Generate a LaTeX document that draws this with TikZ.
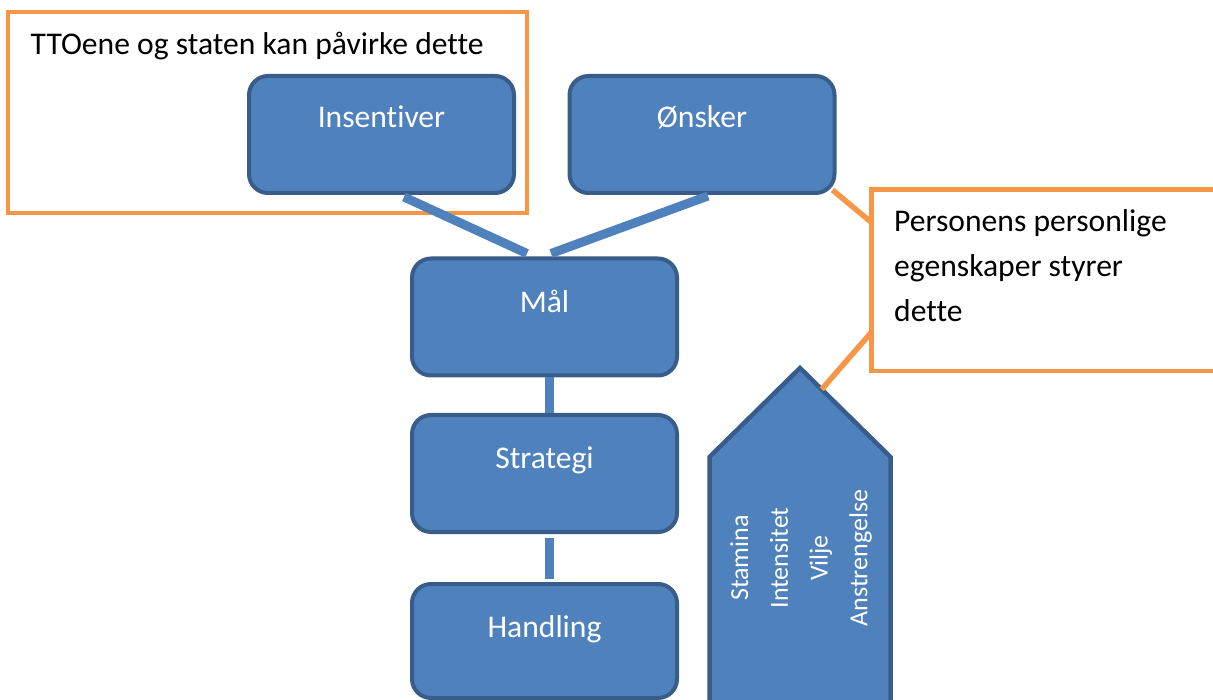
\documentclass[tikz,border=0pt]{standalone}
\usepackage{fontspec}
\setmainfont{Carlito}[RawFeature={-liga;-clig;-calt;-dlig;-rlig}]
\usetikzlibrary{calc}
\definecolor{boxfill}{HTML}{4F81BD}
\definecolor{boxline}{HTML}{385D8A}
\definecolor{noteline}{HTML}{F79646}
\begin{document}
\begin{tikzpicture}[x=1pt,y=-1pt,
  stage/.style={draw=boxline, line width=4pt, fill=boxfill, rounded corners=19pt,
    minimum width=265pt, minimum height=117pt, inner sep=0pt},
  stagetext/.style={text=white, font=\fontsize{31.6}{38}\selectfont, anchor=base, inner sep=0pt},
  link/.style={draw=boxfill, line width=9pt},
  notebox/.style={draw=noteline, line width=4.5pt, inner sep=0pt},
  notetext/.style={text=black, font=\fontsize{31.6}{45}\selectfont, anchor=base west, inner sep=0pt},
  notelink/.style={draw=noteline, line width=5.5pt},
  effort/.style={draw=boxline, line width=4.5pt, fill=boxfill, line join=miter},
  efforttext/.style={text=white, font=\fontsize{26}{39.7}\selectfont, rotate=90, align=center, inner sep=0pt},
]
\useasboundingbox (0,0) rectangle (1213,700);
\clip (0,0) rectangle (1213,700);

% callout boxes
\node[notebox, minimum width=519pt, minimum height=201pt] (influence) at (267.5,112.5) {};
\node[notebox, fill=white, minimum width=368.5pt, minimum height=181.5pt] (pers) at (1055.75,280.25) {};
\node[notetext] (influence-text) at (30.5,55) {TTOene og staten kan påvirke dette};
\node[notetext] (pers-text) at (894,232)
  {\vtop{\hbox{Personens personlige}\hbox{egenskaper styrer}\hbox{dette}}};

% stages
\node[stage] (ins) at (381.5,134.5) {};
\node[stage] (ons) at (702,134.5) {};
\node[stage] (mal) at (544.5,317) {};
\node[stage] (str) at (544.5,473.5) {};
\node[stage, minimum height=114pt] (han) at (544.5,641) {};

\node[stagetext] (ins-label) at ($(ins.north)+(0,54)$) {Insentiver};
\node[stagetext] (ons-label) at ($(ons.north)+(0,54)$) {Ønsker};
\node[stagetext] (mal-label) at ($(mal.north)+(0,56)$) {Mål};
\node[stagetext] (str-label) at ($(str.north)+(0,55)$) {Strategi};
\node[stagetext] (han-label) at ($(han.north)+(0,55)$) {Handling};

% connectors between stages
\draw[link] ($(ins.south)+(22.5,2)$) -- ($(mal.north)+(-17.5,-3)$);
\draw[link] ($(ons.south)+(6,1)$) -- ($(mal.north)+(6.5,-3)$);
\draw[link] ($(mal.south)+(5,0)$) -- ($(str.north)+(5,0)$);
\draw[link] ($(str.south)+(5,4)$) -- ($(han.north)+(5,-3)$);

% effort arrow
\coordinate (effort-tip) at (800,368);
\coordinate (effort-left) at (709.5,457);
\coordinate (effort-right) at (890.5,457);
\draw[effort] (709.5,730) -- (effort-left) -- (effort-tip) -- (effort-right) -- (890.5,730) -- cycle;
\coordinate (effort-edge) at ($(effort-tip)!0.24!(effort-right)$);
\node[efforttext] (effort-words) at (801,558) {Stamina\\Intensitet\\Vilje\\Anstrengelse};

% callout pointers
\draw[notelink] ($(ons.south east)+(-4,-5)$) -- ($(pers.north west)+(2,35)$);
\draw[notelink] ($(pers.south west)+(3,-42)$) -- (effort-edge);
\end{tikzpicture}
\end{document}
